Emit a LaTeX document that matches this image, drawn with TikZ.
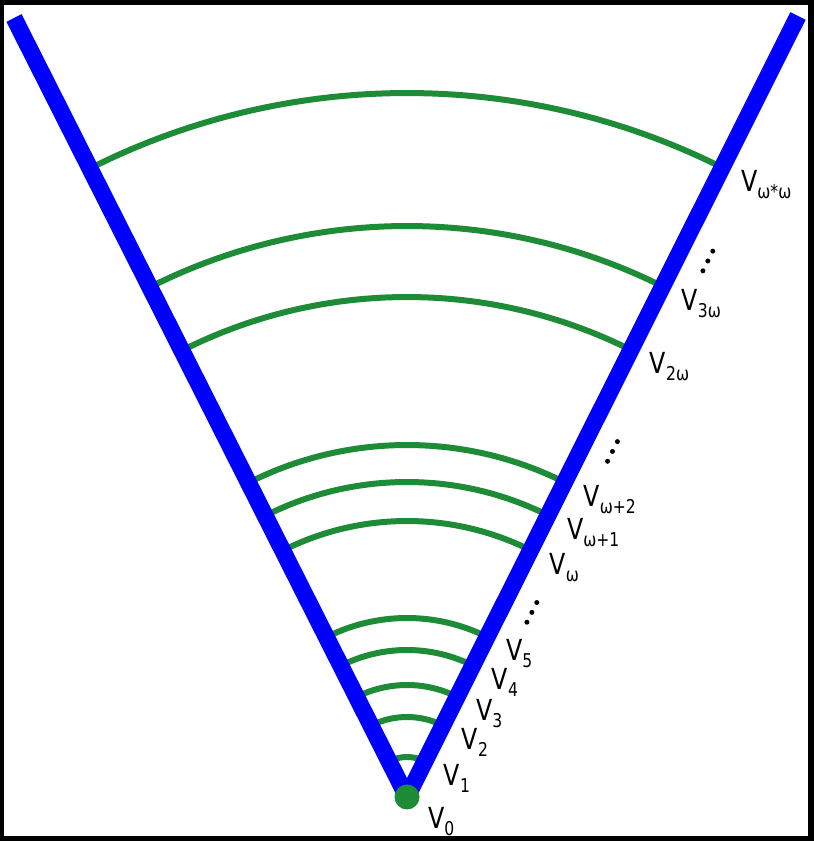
\documentclass[tikz,border=0pt]{standalone}
\usepackage{fontspec}
\setmainfont{DejaVu Sans}
\usetikzlibrary{calc}
\definecolor{vblue}{RGB}{0,0,255}
\definecolor{vgreen}{RGB}{30,140,55}
\newcommand{\vlab}[1]{{\fontsize{29}{29}\selectfont V}\raisebox{-7pt}{\fontsize{19}{19}\selectfont #1}}
\begin{document}
\begin{tikzpicture}[x=1pt,y=1pt,
  ray/.style={vblue,line width=17pt},
  level/.style={vgreen,line width=6pt},
  vlabel/.style={anchor=base west,inner sep=0pt,xscale=0.82},
  dotmark/.style={fill=black,circle,inner sep=0pt,minimum size=5pt}]
\fill[black] (0,0) rectangle (814,841);
\fill[white] (4,5) rectangle (808,836);
\useasboundingbox (0,0) rectangle (814,841);
\coordinate (A) at (407,44);
\coordinate (L) at (14,823);
\coordinate (R) at (798,825);
\foreach \r in {40,80,112,147,179,276,315,352,500,571,704}
  \draw[level] ($(A)+(63.4:\r)$) arc[start angle=63.4,end angle=116.8,radius=\r];
\draw[ray] (A) -- (L);
\draw[ray] (A) -- (R);
\fill[vgreen] (A) circle (12.5);
\node[vlabel] (lab0) at ($(A)+(29,-21)+(-8,-10.5)$) {\vlab{0}};
\foreach \r/\t [count=\i] in {40/1,80/2,112/3,147/4,179/5,276/ω,315/ω+1,352/ω+2,500/2ω,571/3ω,704/ω*ω}
  \node[vlabel] (lab\i) at ($(A)+(63.4:\r)+(-26.6:30)+(-8,-10.5)$) {\vlab{\t}};
\foreach \r [count=\j] in {221,401,614}
  \foreach \d [count=\k] in {-11,0,11}
    \node[dotmark] (dot\j\k) at ($(A)+(63.4:\r+\d)+(-26.6:29)$) {};
\end{tikzpicture}
\end{document}
